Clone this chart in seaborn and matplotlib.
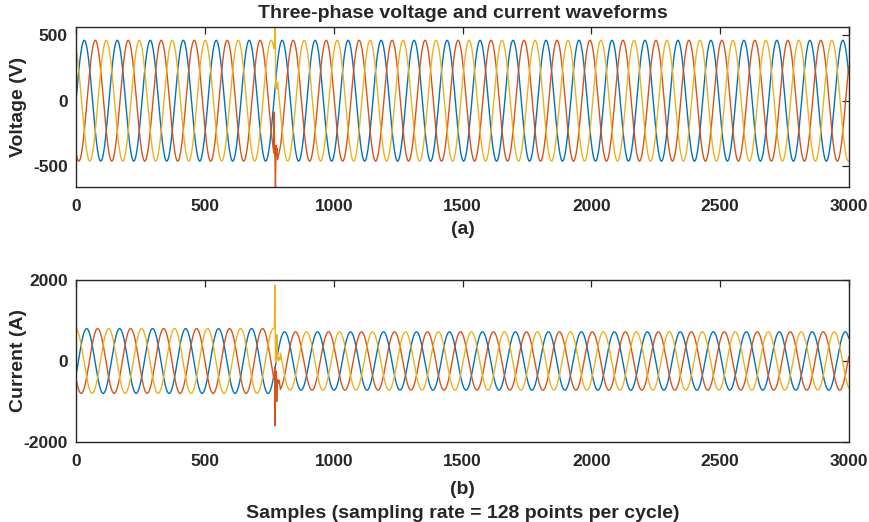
import numpy as np
import pandas as pd
import seaborn as sns
import matplotlib
matplotlib.use("Agg")
import matplotlib.pyplot as plt

# ---- values ----
n_samples = 3000
pts_per_cycle = 128
phases = ["a", "b", "c"]
phase_colors = ["#0072BD", "#D95319", "#EDB120"]
phase_shift_deg = [0, -120, 120]

v_amp = 460          # volts, before and after the event
i_amp_pre = 800      # amps before the event
i_amp_post = 720     # amps after the event
i_lag_deg = 26       # current lags voltage
event_sample = 772
win_start, win_end = 769, 792   # transient window (read point by point)

# transient samples (sample index, value)
v_tr_idx = {
    "a": [],
    "b": [769, 770, 772, 774, 775, 776, 778, 780, 782],
    "c": [772, 773, 774, 775, 776, 778, 780, 782],
}
v_tr_val = {
    "a": [],
    "b": [-86, -380, -430, -657, -520, -340, -380, -360, -450],
    "c": [480, 561, 300, 95, 100, 130, 90, 140],
}
i_tr_idx = {
    "a": [],
    "b": [770, 771, 772, 773, 774, 776, 778, 779, 780, 782, 784, 786, 788, 790, 792],
    "c": [770, 771, 772, 773, 774, 776, 778, 779, 780, 782, 784, 786, 788, 790, 792],
}
i_tr_val = {
    "a": [],
    "b": [-420, -150, -1600, -900, -300, -250, -600, -1000, -700, -450, -550, -500, -480, -560, -640],
    "c": [850, 1300, 1870, 900, 0, -40, 100, 650, 400, 150, 50, 0, 80, 60, 40],
}


def build(kind):
    n = np.arange(n_samples)
    theta = 2 * np.pi * n / pts_per_cycle
    frames = []
    for ph, sh in zip(phases, phase_shift_deg):
        if kind == "v":
            y = v_amp * np.sin(theta + np.deg2rad(sh))
            idx, val = v_tr_idx[ph], v_tr_val[ph]
        else:
            amp = np.where(n < event_sample, i_amp_pre, i_amp_post)
            y = amp * np.sin(theta + np.deg2rad(sh - i_lag_deg))
            idx, val = i_tr_idx[ph], i_tr_val[ph]
        if idx:
            keep = (n < win_start) | (n > win_end)
            x = np.concatenate([n[keep], idx])
            y = np.concatenate([y[keep], val])
        else:
            x = n
        o = np.argsort(x, kind="stable")
        frames.append(pd.DataFrame({"sample": x[o], "value": y[o], "phase": ph}))
    return pd.concat(frames, ignore_index=True)


volt = build("v")
curr = build("i")

sns.set_theme(style="white")
plt.rcParams["font.family"] = ["Liberation Sans", "DejaVu Sans"]
plt.rcParams["font.weight"] = "bold"
plt.rcParams["axes.unicode_minus"] = False
dark = "#262626"

fig = plt.figure(figsize=(8.7, 5.22), dpi=100)
ax1 = fig.add_axes([0.0874, 0.6418, 0.8885, 0.3064])
ax2 = fig.add_axes([0.0874, 0.1533, 0.8885, 0.3103])

pal = dict(zip(phases, phase_colors))
for ax, df in [(ax1, volt), (ax2, curr)]:
    sns.lineplot(data=df, x="sample", y="value", hue="phase", palette=pal,
                 estimator=None, legend=False, linewidth=1.0, ax=ax)
    ax.set_xlim(0, 3000)
    ax.set_xticks(range(0, 3001, 500))
    for s in ax.spines.values():
        s.set_color(dark)
        s.set_linewidth(1.0)
    ax.tick_params(direction="in", length=5, width=0.9, colors=dark,
                   top=True, right=True, labelsize=12.5, pad=6)
    ax.tick_params(axis="x", pad=9)
    for lab in ax.get_xticklabels() + ax.get_yticklabels():
        lab.set_fontweight("bold")

ax1.set_ylim(volt["value"].min(), volt["value"].max())
ax1.set_yticks([-500, 0, 500])
ax2.set_ylim(-2000, 2000)
ax2.set_yticks([-2000, 0, 2000])

lab_kw = dict(fontsize=14, fontweight="bold", color=dark)
ax1.set_title("Three-phase voltage and current waveforms", pad=6.5, **lab_kw)
ax1.set_ylabel("Voltage (V)", **lab_kw)
ax1.set_xlabel("(a)", labelpad=5, **lab_kw)
ax2.set_ylabel("Current (A)", **lab_kw)
ax2.set_xlabel("(b)\nSamples (sampling rate = 128 points per cycle)",
               labelpad=8, linespacing=1.55, **lab_kw)
for ax in (ax1, ax2):
    ax.yaxis.set_label_coords(-0.0634, 0.5)

fig.savefig("out.png", dpi=100)
